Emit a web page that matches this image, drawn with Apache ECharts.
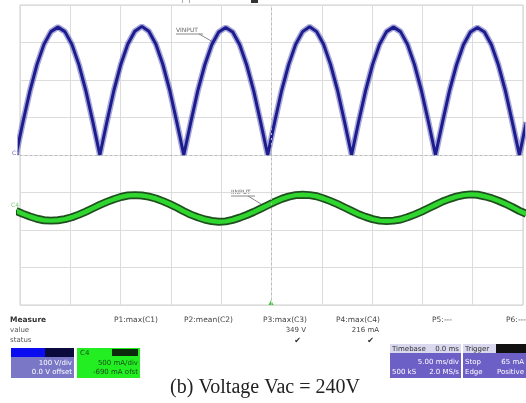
<!DOCTYPE html>
<html>
<head>
<meta charset="utf-8">
<script src="https://cdn.jsdelivr.net/npm/echarts@6/dist/echarts.min.js"></script>
<style>
  html, body { margin: 0; padding: 0; background: #fff; }
  #chart { width: 526px; height: 403px; }
</style>
</head>
<body>
<div id="chart"></div>
<script>
// scope screen: 10 x 8 divisions, samples (in divisions)
const sampleStart = -0.08;
const sampleStep = 0.139;

// C1 / VINPUT, rectified mains, 100 V/div
const vinput = [
  0, 0.88, 1.71, 2.41, 2.95, 3.29, 3.41, 3.29, 2.95, 2.41, 1.71, 0.88,
  0, 0.88, 1.72, 2.42, 2.96, 3.30, 3.43, 3.30, 2.96, 2.42, 1.72, 0.88,
  0, 0.87, 1.71, 2.40, 2.94, 3.28, 3.40, 3.28, 2.94, 2.40, 1.71, 0.87,
  0, 0.88, 1.72, 2.41, 2.95, 3.29, 3.42, 3.29, 2.95, 2.41, 1.72, 0.88,
  0, 0.88, 1.71, 2.41, 2.95, 3.29, 3.41, 3.29, 2.95, 2.41, 1.71, 0.88,
  0, 0.87, 1.71, 2.40, 2.94, 3.28, 3.40, 3.28, 2.94, 2.40, 1.71, 0.87,
  0, 0.88
];

// C4 / IINPUT, 500 mA/div
const iinput = [
  -1.49, -1.57, -1.64, -1.70, -1.74, -1.75, -1.74, -1.71, -1.66, -1.59, -1.51, -1.42,
  -1.33, -1.25, -1.18, -1.12, -1.08, -1.07, -1.08, -1.11, -1.16, -1.23, -1.31, -1.40,
  -1.50, -1.59, -1.66, -1.72, -1.76, -1.78, -1.77, -1.73, -1.67, -1.60, -1.52, -1.43,
  -1.34, -1.25, -1.17, -1.11, -1.07, -1.06, -1.07, -1.10, -1.16, -1.23, -1.31, -1.40,
  -1.49, -1.58, -1.65, -1.71, -1.75, -1.76, -1.75, -1.72, -1.66, -1.59, -1.51, -1.42,
  -1.33, -1.24, -1.17, -1.11, -1.07, -1.05, -1.06, -1.10, -1.15, -1.22, -1.30, -1.39,
  -1.49, -1.57
];

const measureNames = ['P1:max(C1)', 'P2:mean(C2)', 'P3:max(C3)', 'P4:max(C4)', 'P5:---', 'P6:---'];
const measureValues = ['', '', '349 V', '216 mA', '', ''];
const measureStatus = ['', '', '\u2714', '\u2714', '', ''];

const toPairs = (arr) => arr.map((v, i) => [sampleStart + i * sampleStep, v]);

const chart = echarts.init(document.getElementById('chart'));

const small = (text, x, y, opts) => Object.assign({
  type: 'text', x: x, y: y,
  style: Object.assign({ text: text, font: '7px "DejaVu Sans"', fill: '#555', textVerticalAlign: 'middle' }, opts || {})
});

// measurement row columns (right edges of the labels)
const colX = [158, 233, 307, 380, 452, 526];
const measureGraphics = [];
measureNames.forEach((n, i) => {
  measureGraphics.push(small(n, colX[i], 320, { textAlign: 'right', fill: '#444', font: '7.5px "DejaVu Sans"' }));
  if (measureValues[i]) measureGraphics.push(small(measureValues[i], colX[i] - 1, 330, { textAlign: 'right', fill: '#444' }));
  if (measureStatus[i]) measureGraphics.push(small(measureStatus[i], colX[i] - 6, 341, { textAlign: 'right', fill: '#222', font: '8px "DejaVu Sans"' }));
});

const option = {
  backgroundColor: '#fff',
  animation: false,
  grid: { left: 20, top: 5, width: 503, height: 300, show: true, borderColor: '#cfcfcf', borderWidth: 1 },
  xAxis: {
    type: 'value', min: 0, max: 10, interval: 1,
    axisLine: { show: false }, axisTick: { show: false }, axisLabel: { show: false },
    splitLine: { lineStyle: { color: '#dcdcdc', width: 1 } }
  },
  yAxis: {
    type: 'value', min: -4, max: 4, interval: 1,
    axisLine: { show: false }, axisTick: { show: false }, axisLabel: { show: false },
    splitLine: { lineStyle: { color: '#dcdcdc', width: 1 } }
  },
  series: [
    {
      type: 'line', data: [], silent: true,
      markLine: {
        symbol: 'none', silent: true, label: { show: false },
        lineStyle: { color: '#b8b8b8', type: [2, 3], width: 1 },
        data: [{ xAxis: 5 }, { yAxis: 0 }]
      }
    },
    {
      name: 'VINPUT halo', type: 'line', data: toPairs(vinput), showSymbol: false, clip: true,
      lineStyle: { color: 'rgba(60,60,170,0.45)', width: 6 }, z: 3
    },
    {
      name: 'VINPUT', type: 'line', data: toPairs(vinput), showSymbol: false, clip: true,
      lineStyle: { color: '#1c1c8e', width: 3 }, z: 4
    },
    {
      name: 'IINPUT edge', type: 'line', data: toPairs(iinput), showSymbol: false, clip: true,
      lineStyle: { color: '#1f4f1f', width: 8 }, z: 3
    },
    {
      name: 'IINPUT', type: 'line', data: toPairs(iinput), showSymbol: false, clip: true,
      lineStyle: { color: '#2ed62e', width: 4.5 }, z: 4
    }
  ],
  graphic: [
    // top edge marks
    { type: 'rect', shape: { x: 251, y: 0, width: 7, height: 3 }, style: { fill: '#333' } },
    { type: 'rect', shape: { x: 182, y: 0, width: 1, height: 3 }, style: { fill: '#aaa' } },
    { type: 'rect', shape: { x: 189, y: 0, width: 1, height: 3 }, style: { fill: '#aaa' } },
    // channel markers
    small('C1', 12, 153, { fill: '#6a6ab8', font: '6px "DejaVu Sans"' }),
    small('C4', 11, 205, { fill: '#77cc77', font: '6px "DejaVu Sans"' }),
    // trace labels
    small('VINPUT', 176, 30, { fill: '#666', font: '6px "DejaVu Sans"' }),
    { type: 'line', shape: { x1: 176, y1: 34, x2: 203, y2: 34 }, style: { stroke: '#888', lineWidth: 1 } },
    { type: 'line', shape: { x1: 199, y1: 34, x2: 213, y2: 42 }, style: { stroke: '#888', lineWidth: 1 } },
    small('IINPUT', 231, 192, { fill: '#666', font: '6px "DejaVu Sans"' }),
    { type: 'line', shape: { x1: 231, y1: 196, x2: 255, y2: 196 }, style: { stroke: '#888', lineWidth: 1 } },
    { type: 'line', shape: { x1: 248, y1: 196, x2: 261, y2: 204 }, style: { stroke: '#888', lineWidth: 1 } },
    // trigger position marker
    { type: 'polygon', shape: { points: [[268, 306], [274, 306], [271, 300]] }, style: { fill: '#33cc33' } },
    // measure table
    small('Measure', 10, 320, { fill: '#333', font: 'bold 7.5px "DejaVu Sans"' }),
    small('value', 10, 330),
    small('status', 10, 340),
    ...measureGraphics,
    // C1 box
    { type: 'rect', shape: { x: 11, y: 348, width: 63, height: 30 }, style: { fill: '#7a78c6' } },
    { type: 'rect', shape: { x: 11, y: 348, width: 34, height: 9 }, style: { fill: '#0b0bf0' } },
    { type: 'rect', shape: { x: 45, y: 348, width: 29, height: 9 }, style: { fill: '#0a0a3c' } },
    small('100 V/div', 72, 363, { fill: '#fff', textAlign: 'right' }),
    small('0.0 V offset', 72, 372, { fill: '#fff', textAlign: 'right' }),
    // C4 box
    { type: 'rect', shape: { x: 77, y: 348, width: 63, height: 30 }, style: { fill: '#22ee22' } },
    { type: 'rect', shape: { x: 112, y: 349, width: 26, height: 7 }, style: { fill: '#0c2a0c' } },
    small('C4', 80, 353, { fill: '#1b4d1b' }),
    small('500 mA/div', 138, 363, { fill: '#1b4d1b', textAlign: 'right' }),
    small('-690 mA ofst', 138, 372, { fill: '#1b4d1b', textAlign: 'right' }),
    // timebase box
    { type: 'rect', shape: { x: 390, y: 344, width: 71, height: 34 }, style: { fill: '#6c60c6' } },
    { type: 'rect', shape: { x: 390, y: 344, width: 71, height: 9 }, style: { fill: '#d8d8ee' } },
    small('Timebase', 392, 349, { fill: '#333' }),
    small('0.0 ms', 459, 349, { fill: '#333', textAlign: 'right' }),
    small('5.00 ms/div', 459, 362, { fill: '#fff', textAlign: 'right' }),
    small('500 kS', 392, 372, { fill: '#fff' }),
    small('2.0 MS/s', 459, 372, { fill: '#fff', textAlign: 'right' }),
    // trigger box
    { type: 'rect', shape: { x: 463, y: 344, width: 63, height: 34 }, style: { fill: '#6c60c6' } },
    { type: 'rect', shape: { x: 463, y: 344, width: 33, height: 9 }, style: { fill: '#d8d8ee' } },
    { type: 'rect', shape: { x: 496, y: 344, width: 30, height: 9 }, style: { fill: '#111' } },
    small('Trigger', 465, 349, { fill: '#333' }),
    small('Stop', 465, 362, { fill: '#fff' }),
    small('65 mA', 524, 362, { fill: '#fff', textAlign: 'right' }),
    small('Edge', 465, 372, { fill: '#fff' }),
    small('Positive', 524, 372, { fill: '#fff', textAlign: 'right' }),
    // caption
    {
      type: 'text', x: 265, y: 388,
      style: { text: '(b) Voltage Vac = 240V', font: '20px "Liberation Serif"', fill: '#222', textAlign: 'center', textVerticalAlign: 'middle' }
    }
  ]
};

chart.setOption(option);
</script>
</body>
</html>
